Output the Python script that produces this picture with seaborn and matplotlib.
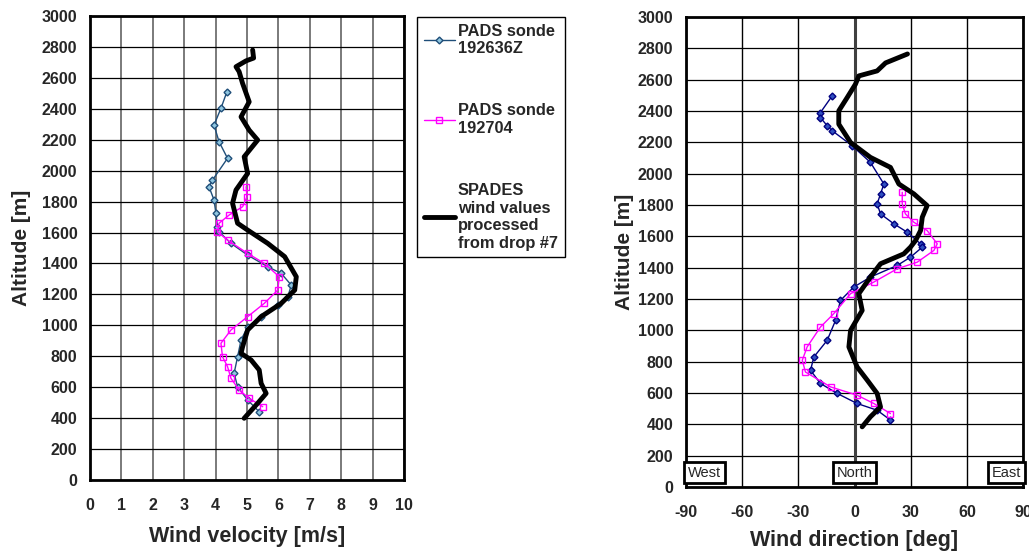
import matplotlib
matplotlib.use("Agg")
import matplotlib.pyplot as plt
import seaborn as sns

# ---- wind velocity panel ----
s1_alt_v = [2510, 2403, 2295, 2187, 2080, 1939, 1896, 1810, 1724, 1638, 1605, 1530, 1454,
            1379, 1336, 1260, 1185, 1131, 1056, 991, 905, 797, 690, 603, 517, 441]
s1_vel = [4.36, 4.17, 3.95, 4.11, 4.38, 3.90, 3.79, 3.95, 4.01, 4.06, 4.11, 4.49, 5.02,
          5.66, 6.09, 6.41, 6.30, 5.98, 5.45, 5.02, 4.81, 4.70, 4.59, 4.70, 5.02, 5.39]

s2_alt_v = [1896, 1832, 1767, 1713, 1660, 1605, 1551, 1465, 1401, 1314, 1228, 1142, 1056,
            970, 884, 797, 733, 657, 582, 528, 474]
s2_vel = [4.97, 5.00, 4.86, 4.43, 4.11, 4.06, 4.38, 5.02, 5.55, 6.03, 5.98, 5.55, 5.02,
          4.49, 4.17, 4.22, 4.38, 4.49, 4.75, 5.07, 5.50]

sp_alt_v = [2780, 2728, 2710, 2672, 2640, 2564, 2445, 2348, 2262, 2198, 2090, 1982, 1875,
            1789, 1660, 1616, 1530, 1444, 1314, 1228, 1142, 1056, 970, 862, 819, 776, 711,
            625, 560, 496, 399]
sp_vel = [5.18, 5.21, 4.97, 4.65, 4.75, 4.86, 5.07, 4.81, 5.07, 5.34, 4.91, 5.02, 4.65,
          4.54, 4.70, 5.02, 5.66, 6.20, 6.57, 6.52, 6.09, 5.45, 5.02, 4.86, 4.81, 5.13, 5.39,
          5.45, 5.61, 5.34, 4.91]

# ---- wind direction panel ----
s1_alt_d = [2497, 2390, 2358, 2306, 2274, 2178, 2072, 1934, 1871, 1807, 1743, 1680, 1626,
            1552, 1531, 1467, 1414, 1340, 1276, 1191, 1064, 936, 830, 745, 661, 597, 533,
            490, 427]
s1_dir = [-11.9, -18.2, -18.2, -14.6, -11.9, -1.2, 8.5, 15.7, 13.9, 12.1, 13.9, 21.0, 28.2,
          35.3, 36.2, 29.9, 22.8, 8.5, -0.4, -7.5, -10.1, -14.6, -21.7, -23.5, -18.2, -9.2,
          1.4, 12.1, 19.2]

s2_alt_d = [1881, 1807, 1743, 1690, 1637, 1552, 1510, 1435, 1393, 1308, 1234, 1106, 1021,
            894, 809, 734, 639, 586, 533, 469]
s2_dir = [25.5, 25.5, 27.2, 31.7, 38.8, 44.2, 42.4, 33.5, 22.8, 10.3, -2.1, -11.1, -18.2,
          -25.3, -27.9, -26.2, -12.8, 1.4, 10.3, 19.2]

sp_alt_d = [2764, 2707, 2656, 2624, 2571, 2486, 2401, 2316, 2199, 2104, 2040, 1934, 1871,
            1796, 1722, 1637, 1573, 1531, 1488, 1425, 1340, 1234, 1127, 1000, 894, 766, 682,
            597, 511, 448, 384]
sp_dir = [28.3, 16.6, 12.1, 2.3, 0.5, -3.9, -8.4, -8.4, -2.1, 8.5, 19.2, 23.7, 31.7,
          38.8, 36.2, 35.3, 32.6, 29.9, 26.3, 13.9, 8.5, 2.3, 4.1, -2.1, -3.0, 1.4, 6.8,
          12.1, 13.9, 8.5, 4.1]

labels = ["PADS sonde\n192636Z", "PADS sonde\n192704",
          "SPADES\nwind values\nprocessed\nfrom drop #7"]
dir_ticks = [-90, -60, -30, 0, 30, 60, 90]
compass = ["West", "North", "East"]

sns.set_theme(style="white")
plt.rcParams["font.family"] = ["Liberation Sans", "DejaVu Sans"]
plt.rcParams["axes.unicode_minus"] = False

W, H = 1029, 557
fig = plt.figure(figsize=(W / 100, H / 100), dpi=100)
ax1 = fig.add_axes([90 / W, 1 - 480 / H, (404 - 90) / W, (480 - 16) / H])
ax2 = fig.add_axes([686 / W, 1 - 487 / H, (1023 - 686) / W, (487 - 17) / H])

# left: velocity
sns.lineplot(x=s1_vel, y=s1_alt_v, ax=ax1, sort=False, estimator=None, legend=False,
             color="#1f4e79", lw=1, marker="D", markersize=3.5,
             markerfacecolor="#8fc6e0", markeredgecolor="#1f4e79", markeredgewidth=1)
sns.lineplot(x=s2_vel, y=s2_alt_v, ax=ax1, sort=False, estimator=None, legend=False,
             color="#ff00ff", lw=1, marker="s", markersize=5,
             markerfacecolor="none", markeredgecolor="#ff00ff", markeredgewidth=1)
sns.lineplot(x=sp_vel, y=sp_alt_v, ax=ax1, sort=False, estimator=None, legend=False,
             color="black", lw=3.5, solid_capstyle="round")

# right: direction
sns.lineplot(x=s1_dir, y=s1_alt_d, ax=ax2, sort=False, estimator=None, legend=False,
             color="#000080", lw=1, marker="D", markersize=3.5,
             markerfacecolor="#3050c0", markeredgecolor="#000080", markeredgewidth=1)
sns.lineplot(x=s2_dir, y=s2_alt_d, ax=ax2, sort=False, estimator=None, legend=False,
             color="#ff00ff", lw=1, marker="s", markersize=5,
             markerfacecolor="none", markeredgecolor="#ff00ff", markeredgewidth=1)
sns.lineplot(x=sp_dir, y=sp_alt_d, ax=ax2, sort=False, estimator=None, legend=False,
             color="black", lw=3.5, solid_capstyle="round")

handles = list(ax1.lines[:3])

for ax in (ax1, ax2):
    ax.set_ylim(0, 3000)
    ax.set_yticks(range(0, 3001, 200))
    ax.set_axisbelow(True)
    ax.grid(True, axis="y", color="black", lw=0.9)
    for sp in ax.spines.values():
        sp.set_visible(True)
        sp.set_color("black")
        sp.set_linewidth(2)
    ax.tick_params(length=0, labelsize=11.5)
    ax.set_facecolor("white")

ax1.set_xlim(0, 10)
ax1.set_xticks(range(0, 11))
ax1.grid(True, axis="x", color="#707070", lw=1.3)
ax1.tick_params(axis="y", pad=9)
ax1.tick_params(axis="x", pad=13)
for t in ax1.get_xticklabels() + ax1.get_yticklabels():
    t.set_fontweight("bold")
ax1.set_xlabel("Wind velocity [m/s]", fontsize=15.5, fontweight="bold", labelpad=9)
ax1.set_ylabel("Altitude [m]", fontsize=15, fontweight="bold", labelpad=8)

ax2.set_xlim(-90, 90)
ax2.set_xticks(dir_ticks)
ax2.grid(True, axis="x", color="black", lw=1)
ax2.axvline(0, color="#404040", lw=2.2, zorder=1)
ax2.tick_params(axis="y", pad=9)
ax2.tick_params(axis="x", pad=13)
for t in ax2.get_xticklabels() + ax2.get_yticklabels():
    t.set_fontweight("bold")
ax2.set_xlabel("Wind direction [deg]", fontsize=15.5, fontweight="bold", labelpad=7)
ax2.set_ylabel("Altitude [m]", fontsize=15, fontweight="bold", labelpad=3)

box = dict(boxstyle="square,pad=0.25", fc="white", ec="black", lw=2)
ax2.text(-89, 92, compass[0], ha="left", va="center", fontsize=10.5, bbox=box, zorder=5)
ax2.text(0, 92, compass[1], ha="center", va="center", fontsize=10.5, bbox=box, zorder=5)
ax2.text(89, 92, compass[2], ha="right", va="center", fontsize=10.5, bbox=box, zorder=5)

leg = fig.legend(handles, labels, loc="upper left", bbox_to_anchor=(417 / W, 1 - 17 / H),
                 frameon=True, fancybox=False, edgecolor="black", framealpha=1,
                 borderaxespad=0, labelspacing=2.9, handlelength=1.9, handletextpad=0.2,
                 borderpad=0.4, prop={"weight": "bold", "size": 11.8})
leg.get_frame().set_linewidth(1)

fig.savefig("out.png", dpi=100)
